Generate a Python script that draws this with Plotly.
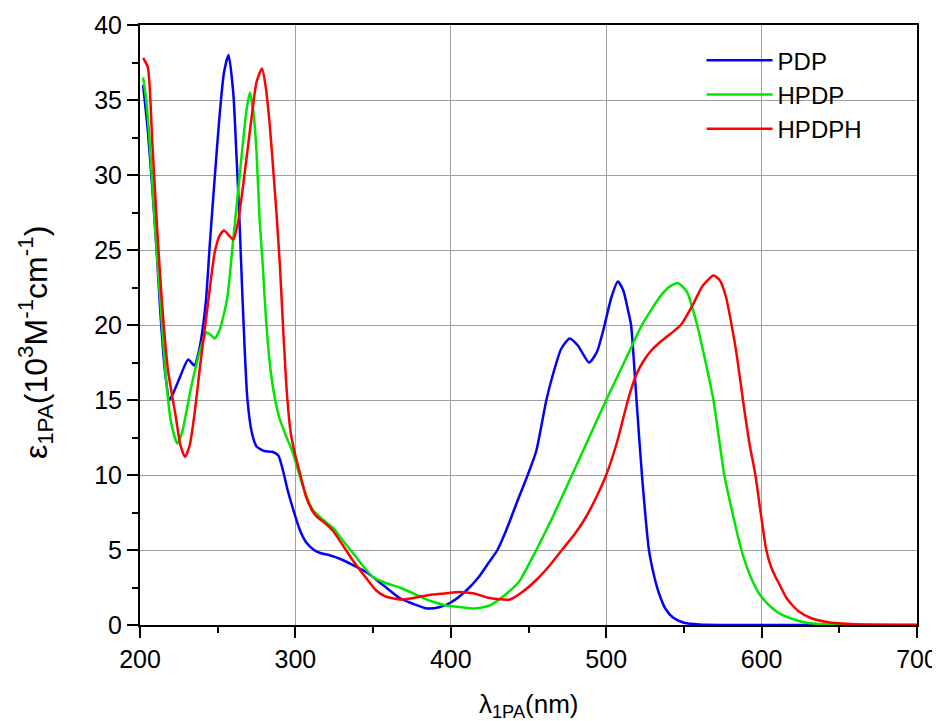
import plotly.graph_objects as go

# Wavelength (nm) and molar absorptivity (10^3 M^-1 cm^-1)
pdp_x = [202, 205, 208, 211, 213, 216, 219, 222, 226, 231, 235, 238, 240, 242.5, 245, 248, 251, 254, 257, 260, 262, 264, 266, 269, 272, 275, 280, 285, 289, 292, 295, 298, 303, 307, 312, 316, 322, 329, 337, 346, 356, 367, 376, 385, 393, 400, 410, 418, 424, 430, 436, 443, 449.5, 455, 461.5, 466, 471, 476.5, 482, 489, 494, 498, 503.5, 507.5, 511, 514, 516, 519.5, 523, 527.5, 531, 534, 538, 543, 550, 560, 580, 620, 660, 700]
pdp_y = [36.0, 33.0, 29.0, 24.5, 21.0, 17.0, 15.0, 15.6, 16.6, 17.7, 17.3, 18.3, 19.5, 21.7, 25.5, 29.7, 33.7, 36.8, 38.0, 35.5, 31.5, 27.0, 21.7, 15.2, 12.8, 11.9, 11.6, 11.55, 11.3, 10.3, 9.0, 7.9, 6.3, 5.5, 5.0, 4.8, 4.65, 4.4, 4.0, 3.5, 2.7, 1.8, 1.4, 1.1, 1.2, 1.5, 2.3, 3.2, 4.1, 5.0, 6.4, 8.3, 10.0, 11.6, 15.0, 16.8, 18.4, 19.1, 18.6, 17.5, 18.2, 19.6, 21.9, 22.9, 22.3, 21.0, 20.0, 15.0, 10.0, 5.0, 3.2, 2.1, 1.1, 0.5, 0.15, 0.03, 0.0, 0.0, 0.0, 0.0]

hpdp_x = [202, 204, 206, 210, 213, 217, 220, 224, 227, 230, 233, 236.6, 240, 243, 246, 248, 251, 256, 260, 265.6, 268.5, 270.7, 273, 275, 277, 279, 281, 284, 287, 290, 294, 298, 302, 305, 311, 318, 324, 330, 337, 343, 350, 358, 367, 376, 387, 397, 406, 415, 425, 436, 444, 455, 466, 478, 489, 500, 512, 523, 534, 540, 546, 552, 558, 564, 569, 576, 581, 587, 593, 599, 605, 611, 620, 629, 640, 660, 700]
hpdp_y = [36.5, 35.0, 32.5, 26.0, 21.7, 16.1, 13.5, 12.1, 12.8, 14.3, 15.9, 17.5, 18.8, 19.5, 19.3, 19.1, 19.6, 21.7, 25.7, 31.5, 34.3, 35.5, 34.2, 31.5, 27.0, 24.0, 20.5, 17.0, 15.0, 13.7, 12.6, 11.6, 10.2, 9.2, 7.7, 7.0, 6.5, 5.7, 4.8, 4.0, 3.2, 2.8, 2.5, 2.1, 1.6, 1.3, 1.2, 1.1, 1.3, 2.1, 2.9, 5.0, 7.3, 10.0, 12.5, 15.0, 17.6, 20.0, 21.8, 22.5, 22.8, 22.2, 20.2, 17.5, 15.0, 10.0, 7.6, 5.0, 3.2, 2.0, 1.3, 0.8, 0.4, 0.15, 0.05, 0.0, 0.0]

hpdph_x = [202, 205, 208, 211, 214, 218, 223, 226, 229, 232, 235, 238.6, 242, 245, 248, 251, 254, 257, 260, 263, 266, 269, 272, 275, 278.5, 281, 283.6, 286, 288, 290, 292, 294.5, 297, 300, 303, 307, 311, 314, 319, 324, 330, 337, 345, 352, 358, 367, 376, 386, 396, 406, 415, 425, 438, 446, 455, 463, 471.5, 480, 487, 494, 500, 507, 514, 519, 524, 529, 534, 540, 548, 556, 562, 569, 573, 577, 580.7, 584, 588, 592, 596, 599, 603, 606, 609, 612, 616, 620, 624, 632, 642, 660, 700]
hpdph_y = [37.8, 37.2, 32.0, 26.5, 21.7, 17.0, 13.9, 12.0, 11.2, 12.0, 14.0, 17.2, 20.0, 22.5, 24.8, 25.9, 26.3, 26.0, 25.7, 26.8, 29.0, 31.5, 34.0, 36.2, 37.1, 35.8, 33.2, 30.0, 27.2, 24.0, 20.0, 15.5, 12.8, 11.3, 10.1, 8.5, 7.6, 7.2, 6.8, 6.3, 5.4, 4.3, 3.2, 2.3, 1.9, 1.7, 1.8, 2.0, 2.1, 2.2, 2.1, 1.8, 1.7, 2.2, 3.0, 3.9, 5.0, 6.1, 7.2, 8.6, 10.0, 12.2, 15.0, 16.6, 17.6, 18.3, 18.8, 19.3, 20.0, 21.4, 22.6, 23.3, 23.0, 21.9, 20.0, 18.0, 15.0, 12.2, 10.0, 7.8, 5.0, 3.9, 3.2, 2.6, 1.8, 1.3, 0.9, 0.45, 0.2, 0.05, 0.0]

series_names = ["PDP", "HPDP", "HPDPH"]
series_colors = ["#0000ff", "#00e600", "#ff0000"]

x_ticks = [200, 300, 400, 500, 600, 700]
y_ticks = [0, 5, 10, 15, 20, 25, 30, 35, 40]

FONT = "Arial, Liberation Sans, sans-serif"

fig = go.Figure()
for name, xs, ys, col in zip(series_names, [pdp_x, hpdp_x, hpdph_x],
                             [pdp_y, hpdp_y, hpdph_y], series_colors):
    fig.add_trace(go.Scatter(x=xs, y=ys, mode="lines", name=name,
                             line=dict(color=col, width=2.5, shape="spline", smoothing=0.6)))

axis_common = dict(
    showline=True, linecolor="black", linewidth=2, mirror=True,
    ticks="outside", ticklen=11, tickwidth=2, tickcolor="black",
    showgrid=True, gridcolor="#a0a0a0", gridwidth=1, zeroline=False,
    automargin=False,
    tickfont=dict(family=FONT, size=25, color="black"),
)

fig.update_layout(
    width=940, height=721,
    margin=dict(l=132, r=31, t=17, b=104),
    paper_bgcolor="white", plot_bgcolor="white",
    font=dict(family=FONT, color="black"),
    xaxis=dict(range=[200, 700], tickvals=x_ticks,
               minor=dict(ticks="outside", ticklen=6, tickwidth=2, tickcolor="black",
                          dtick=50, tick0=200, showgrid=False),
               **axis_common),
    yaxis=dict(range=[0, 40], tickvals=y_ticks,
               minor=dict(ticks="outside", ticklen=6, tickwidth=2, tickcolor="black",
                          dtick=2.5, tick0=0, showgrid=False),
               **axis_common),
    legend=dict(x=0.7227, y=0.978, xanchor="left", yanchor="top",
                bgcolor="rgba(0,0,0,0)", borderwidth=0,
                font=dict(size=24, family=FONT, color="black"),
                itemwidth=66, tracegroupgap=0),
    showlegend=True,
    annotations=[
        dict(text="ε<sub>1PA</sub>(10<sup>3</sup>M<sup>-1</sup>cm<sup>-1</sup>)",
             xref="paper", yref="paper", x=-0.135, y=0.47,
             xanchor="center", yanchor="middle", textangle=-90, showarrow=False,
             font=dict(size=32, family=FONT, color="black")),
        dict(text="λ<sub>1PA</sub>(nm)",
             xref="paper", yref="paper", x=0.5, y=-0.134,
             xanchor="center", yanchor="middle", showarrow=False,
             font=dict(size=26, family=FONT, color="black")),
    ],
)

fig.write_html("out.html")
